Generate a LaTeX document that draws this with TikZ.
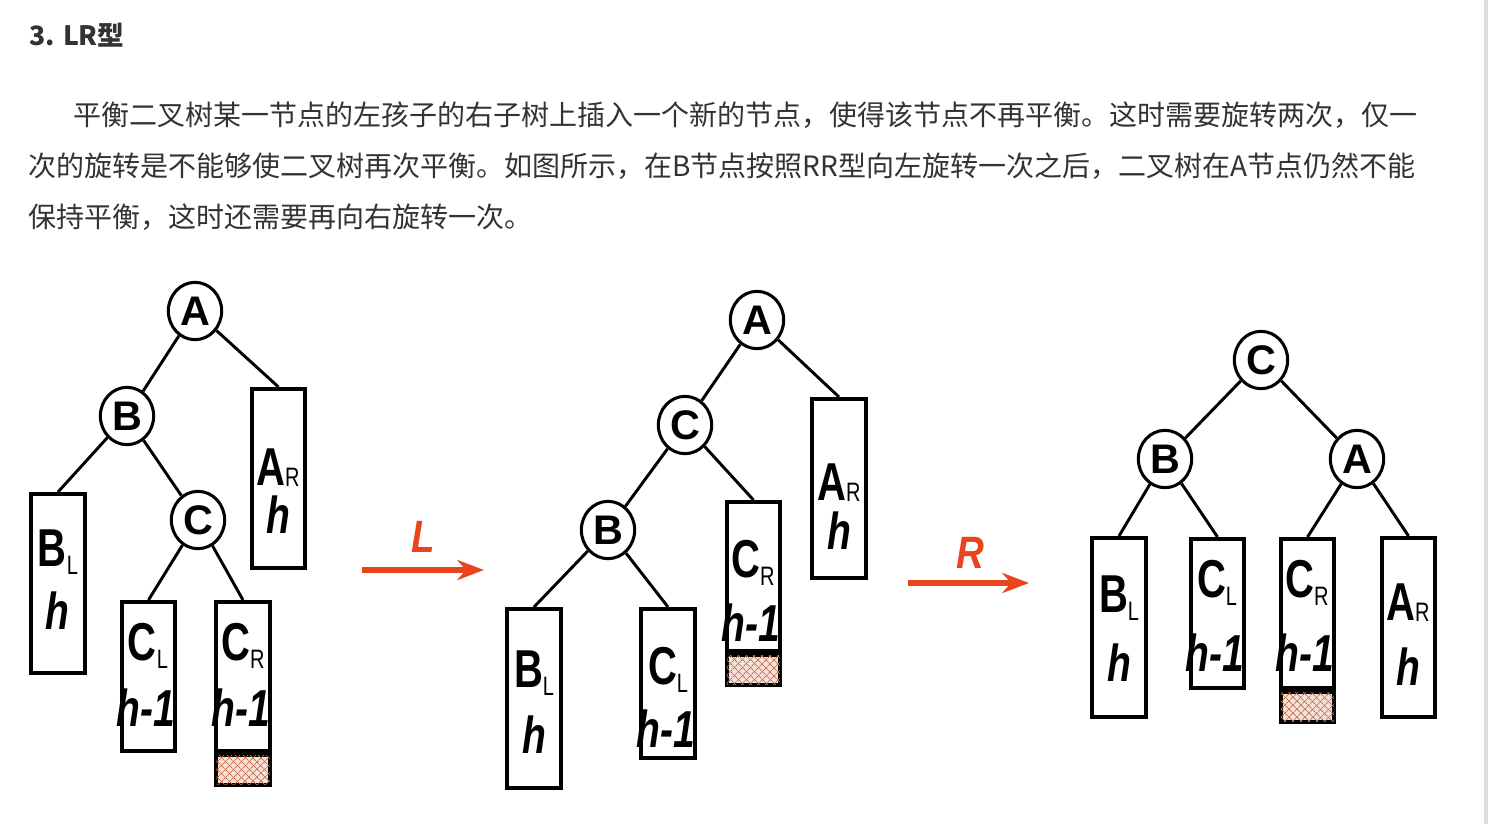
\documentclass[tikz,border=0pt]{standalone}
\usepackage{fontspec}
\setmainfont{Liberation Sans}
\newfontfamily\cjk{Noto Sans CJK SC}
\newfontfamily\labfont[FakeStretch=0.75]{Liberation Sans}
\newfontfamily\turnfont[FakeStretch=0.85]{Liberation Sans}
\usetikzlibrary{arrows.meta,calc,positioning,shapes.geometric,patterns.meta}
\definecolor{ink}{HTML}{333333}
\definecolor{rotred}{HTML}{E8441D}
\definecolor{hatchbg}{HTML}{F7E2D9}
\definecolor{hatchln}{HTML}{C8714F}
\definecolor{sidebar}{HTML}{DDDDDD}
\newcommand\lsub[1]{\raisebox{-6pt}{\fontsize{20}{20}\selectfont\mdseries#1}}
\newcommand\rsub[1]{\raisebox{-1pt}{\fontsize{20}{20}\selectfont\mdseries#1}}

\begin{document}
\begin{tikzpicture}[x=.75pt,y=-.75pt,
 knot/.style={ellipse,draw,line width=2.3pt,inner sep=0pt,minimum width=40pt,minimum height=43pt,font=\fontsize{31}{31}\selectfont\bfseries},
 hbox/.style={draw,line width=3pt,anchor=north,minimum width=40pt,minimum height=134pt,inner sep=0pt},
 hmbox/.style={hbox,minimum height=112pt},
 newbox/.style={hbox,minimum height=22pt,fill=hatchbg,
  postaction={pattern={Lines[angle=45,distance=4pt,line width=.7pt]},pattern color=hatchln},
  postaction={pattern={Lines[angle=-45,distance=4pt,line width=.7pt]},pattern color=hatchln}},
 lab/.style={anchor=base,inner sep=0pt,font=\labfont\fontsize{40}{40}\selectfont\bfseries},
 hlab/.style={anchor=base,inner sep=0pt,font=\labfont\fontsize{39}{39}\selectfont\bfseries\itshape},
 edge/.style={line width=2.2pt},
 turnarrow/.style={draw=rotred,line width=4.5pt,-{Stealth[length=20pt,width=15pt]}},
 turnlab/.style={text=rotred,inner sep=0pt,font=\turnfont\fontsize{34}{34}\selectfont\bfseries\itshape},
 para/.style={anchor=west,inner sep=0pt,text=ink,font=\cjk\fontsize{21}{26}\selectfont}]
 \fill[white](0,0)rectangle(1492,824);
 \useasboundingbox(0,0)rectangle(1492,824);
 \fill[sidebar](1484,0)rectangle(1488,824);
 % heading and text
 \node[anchor=west,inner sep=0pt,text=ink,font=\cjk\bfseries\fontsize{20}{24}\selectfont](head)at(29,35){3. LR型};
 \node[para](ln1)at(73,115){平衡二叉树某一节点的左孩子的右子树上插入一个新的节点，使得该节点不再平衡。这时需要旋转两次，仅一};
 \node[para](ln2)at(28,166){次的旋转是不能够使二叉树再次平衡。如图所示，在B节点按照RR型向左旋转一次之后，二叉树在A节点仍然不能};
 \node[para](ln3)at(28,217){保持平衡，这时还需要再向右旋转一次。};
 % tree before
 \node[knot](a1)at(195,311){A};\node[knot](b1)at(127,416){B};\node[knot](c1)at(198,520){C};
 \node[hbox](ar1)at(278.5,387){};\node[hbox](bl1)at(58,492){};
 \node[hmbox](cl1)at(148.5,600){};\node[hmbox](cr1)at(243,600){};\node[newbox](cr1n)at(cr1.south){};
 \node[lab](ar1t)at(278,485){A\rsub{R}};\node[hlab](ar1h)at(278,533){h};
 \node[lab](bl1t)at(58,566){B\lsub{L}};\node[hlab](bl1h)at(57,629){h};
 \node[lab](cl1t)at(148,660){C\lsub{L}};\node[hlab](cl1h)at(146,726){h-1};
 \node[lab](cr1t)at(243,660){C\lsub{R}};\node[hlab](cr1h)at(241,726){h-1};
 \draw[edge](a1)--(b1);\draw[edge](a1)--(ar1.north);\draw[edge](b1)--(bl1.north);
 \draw[edge](b1)--(c1);\draw[edge](c1)--(cl1.north);\draw[edge](c1)--(cr1.north);
 % rotate left
 \coordinate(l0)at(362,570);\coordinate(l1)at(484,570);
 \draw[turnarrow](l0)--(l1);\node[turnlab](lt)at(423,537){L};
 % tree after L
 \node[knot](a2)at(757,320){A};\node[knot](c2)at(685,425){C};\node[knot](b2)at(608,530){B};
 \node[hbox](ar2)at(839,397){};\node[hmbox](cr2)at(753.5,500){};\node[newbox](cr2n)at(cr2.south){};
 \node[hbox](bl2)at(534,607){};\node[hmbox](cl2)at(668,607){};
 \node[lab](ar2t)at(839,500){A\rsub{R}};\node[hlab](ar2h)at(839,549){h};
 \node[lab](cr2t)at(753,577){C\lsub{R}};\node[hlab](cr2h)at(751,641){h-1};
 \node[lab](bl2t)at(534,687){B\lsub{L}};\node[hlab](bl2h)at(534,753){h};
 \node[lab](cl2t)at(668,684){C\lsub{L}};\node[hlab](cl2h)at(666,747){h-1};
 \draw[edge](a2)--(c2);\draw[edge](a2)--(ar2.north);\draw[edge](c2)--(b2);
 \draw[edge](c2)--(cr2.north);\draw[edge](b2)--(bl2.north);\draw[edge](b2)--(cl2.north);
 % rotate right
 \coordinate(r0)at(908,583);\coordinate(r1)at(1029,583);
 \draw[turnarrow](r0)--(r1);\node[turnlab](rt)at(970,553){R};
 % tree after R
 \node[knot](c3)at(1261,360){C};\node[knot](b3)at(1165,459){B};\node[knot](a3)at(1357,459){A};
 \node[hbox](bl3)at(1119,536){};\node[hmbox](cl3)at(1217.5,537){};
 \node[hmbox](cr3)at(1307.5,537){};\node[newbox](cr3n)at(cr3.south){};\node[hbox](ar3)at(1408.5,536){};
 \node[lab](bl3t)at(1119,612){B\lsub{L}};\node[hlab](bl3h)at(1119,681){h};
 \node[lab](cl3t)at(1217,597){C\lsub{L}};\node[hlab](cl3h)at(1215,671){h-1};
 \node[lab](cr3t)at(1307,597){C\lsub{R}};\node[hlab](cr3h)at(1305,671){h-1};
 \node[lab](ar3t)at(1408,620){A\rsub{R}};\node[hlab](ar3h)at(1408,685){h};
 \draw[edge](c3)--(b3);\draw[edge](c3)--(a3);\draw[edge](b3)--(bl3.north);
 \draw[edge](b3)--(cl3.north);\draw[edge](a3)--(cr3.north);\draw[edge](a3)--(ar3.north);
\end{tikzpicture}
\end{document}
